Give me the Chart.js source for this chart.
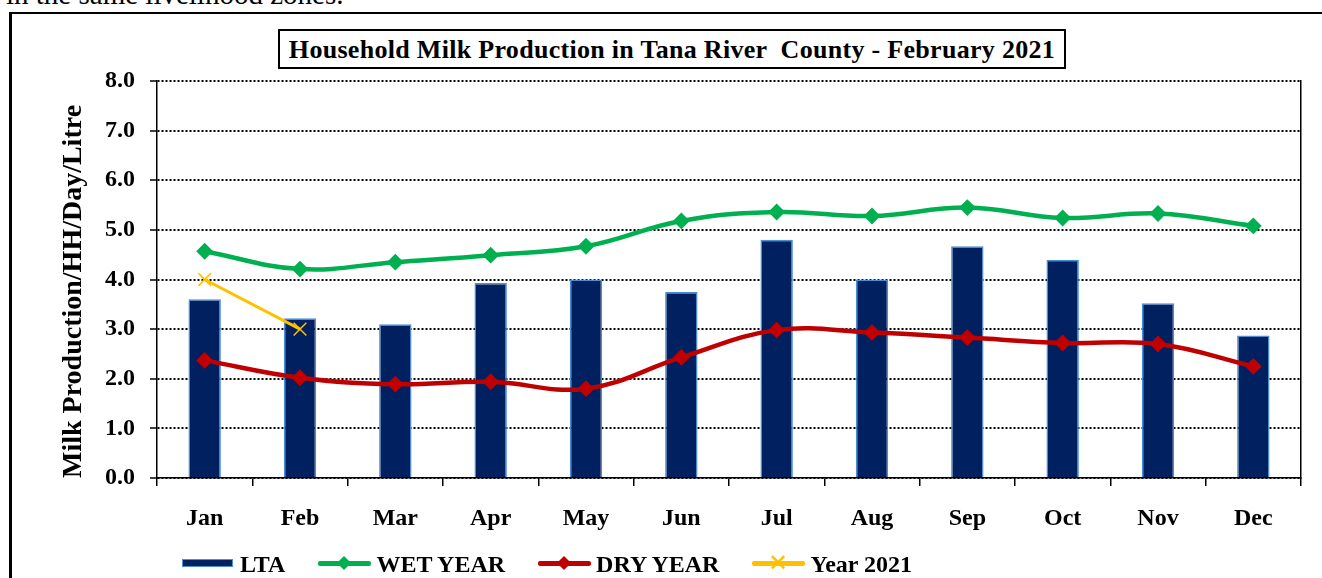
<!DOCTYPE html>
<html>
<head>
<meta charset="utf-8">
<script src="https://cdn.jsdelivr.net/npm/chart.js@4.4.1/dist/chart.umd.min.js"></script>
<style>
  html, body { margin: 0; padding: 0; background: #fff; }
  body { width: 1322px; height: 578px; position: relative; overflow: hidden;
         font-family: "Liberation Serif", "Times New Roman", serif; }
  #lead { position: absolute; left: 6px; top: -20px; font-size: 29px; line-height: 29px; white-space: pre; color: #000; }
  #frame { position: absolute; left: 9px; top: 12px; width: 1320px; height: 600px;
           border-left: 3px solid #000; border-top: 2px solid #000; }
  #chartBox { position: absolute; left: 0; top: 0; width: 1322px; height: 578px; }
  #title { position: absolute; left: 278px; top: 29px; width: 784px; height: 36px;
           border: 2px solid #000; background: #fff; text-align: center;
           font-family: "Liberation Serif", "Times New Roman", serif;
           font-weight: bold; font-size: 26px; line-height: 37px; letter-spacing: 0.3px; white-space: pre; }
  #legend { position: absolute; left: 182px; top: 550px; display: flex; align-items: center;
            font-family: "Liberation Serif", "Times New Roman", serif;
            font-weight: bold; font-size: 24px; line-height: 28px; white-space: pre; }
  .item { display: flex; align-items: center; margin-right: 33px; }
  .sw { position: relative; width: 53px; height: 16px; margin-right: 5px; }
  .sw .bar { position: absolute; left: 0; top: 3px; width: 49px; height: 6px; border: 1.5px solid; }
  .sw .ln { position: absolute; left: 0; top: 5px; width: 53px; height: 5px; border-radius: 2px; }
  .sw .dia { position: absolute; left: 21px; top: 2px; width: 10px; height: 10px; transform: rotate(45deg); }
  .sw .x { position: absolute; left: 16px; top: -5px; font-weight: normal; font-size: 24px; line-height: 24px; }
</style>
</head>
<body>
<div id="lead">in the same livelihood zones.</div>
<div id="frame"></div>
<div id="chartBox"><canvas id="milkChart" width="1322" height="578"></canvas></div>
<div id="title">Household Milk Production in Tana River  County - February 2021</div>
<div id="legend"></div>
<script>
  const FONT = "'Liberation Serif', 'Times New Roman', serif";

  const months = ["Jan", "Feb", "Mar", "Apr", "May", "Jun", "Jul", "Aug", "Sep", "Oct", "Nov", "Dec"];
  const ltaValues = [3.60, 3.22, 3.10, 3.93, 4.00, 3.75, 4.80, 4.00, 4.67, 4.40, 3.52, 2.87];
  const wetYearValues = [4.57, 4.21, 4.35, 4.49, 4.67, 5.18, 5.36, 5.28, 5.45, 5.24, 5.33, 5.08];
  const dryYearValues = [2.37, 2.02, 1.89, 1.94, 1.80, 2.43, 2.98, 2.93, 2.83, 2.72, 2.70, 2.25];
  const year2021Values = [4.0, 3.0, null, null, null, null, null, null, null, null, null, null];

  const seriesNames = ["LTA", "WET YEAR", "DRY YEAR", "Year 2021"];
  const colors = { lta: "#002060", ltaEdge: "#4A8FD3", wet: "#00B050", dry: "#C00000", y2021: "#FFC000" };

  const bold24 = { family: FONT, size: 24, weight: "bold" };

  const ctx = document.getElementById("milkChart").getContext("2d");
  const chart = new Chart(ctx, {
    type: "bar",
    data: {
      labels: months,
      datasets: [
        {
          type: "line", label: seriesNames[3], data: year2021Values, order: 0,
          borderColor: colors.y2021, backgroundColor: colors.y2021, borderWidth: 3,
          pointStyle: "crossRot", pointRadius: 9, pointBorderWidth: 1.5, tension: 0, spanGaps: false
        },
        {
          type: "line", label: seriesNames[1], data: wetYearValues, order: 1,
          borderColor: colors.wet, backgroundColor: colors.wet, borderWidth: 4.5,
          pointStyle: "rectRot", pointRadius: 7, pointBorderWidth: 2, tension: 0.4
        },
        {
          type: "line", label: seriesNames[2], data: dryYearValues, order: 2,
          borderColor: colors.dry, backgroundColor: colors.dry, borderWidth: 4.5,
          pointStyle: "rectRot", pointRadius: 7, pointBorderWidth: 2, tension: 0.4
        },
        {
          type: "bar", label: seriesNames[0], data: ltaValues, order: 3,
          backgroundColor: colors.lta, borderColor: colors.ltaEdge, borderWidth: 1.5,
          barPercentage: 0.34, categoryPercentage: 1
        }
      ]
    },
    options: {
      responsive: false,
      animation: false,
      layout: { padding: { top: 81, right: 21, bottom: 0, left: 0 } },
      plugins: { legend: { display: false }, tooltip: { enabled: false }, title: { display: false } },
      scales: {
        x: {
          offset: true,
          grid: { offset: true, drawOnChartArea: false, drawTicks: true, tickLength: 8, color: "#000", lineWidth: 1.5 },
          border: { color: "#000", width: 1.5 },
          ticks: { font: bold24, color: "#000", padding: 18, maxRotation: 0, autoSkip: false },
          afterFit: (s) => { s.height = 100; }
        },
        y: {
          min: 0, max: 8,
          grid: { color: "#000", lineWidth: 2, tickLength: 7, tickWidth: 1.5, tickColor: "#000" },
          border: { color: "#000", width: 1.5, dash: [2, 2] },
          ticks: { stepSize: 1, font: bold24, color: "#000", padding: 15, callback: (v) => v.toFixed(1) },
          title: { display: true, text: "Milk Production/HH/Day/Litre", color: "#000", align: "start",
                   font: { family: FONT, size: 28, weight: "bold" }, padding: { top: 57, bottom: 0 } },
          afterFit: (s) => { s.width = 157; }
        },
        y2: {
          position: "right", min: 0, max: 8,
          grid: { drawOnChartArea: false, drawTicks: false },
          border: { color: "#000", width: 1.5 },
          ticks: { display: false },
          afterFit: (s) => { s.width = 0; }
        }
      }
    }
  });

  // legend built from the same dataset settings
  const legend = document.getElementById("legend");
  const legendSpec = [
    { name: seriesNames[0], kind: "bar", fill: colors.lta, edge: colors.ltaEdge },
    { name: seriesNames[1], kind: "dia", fill: colors.wet },
    { name: seriesNames[2], kind: "dia", fill: colors.dry },
    { name: seriesNames[3], kind: "x", fill: colors.y2021 }
  ];
  legendSpec.forEach((s) => {
    const item = document.createElement("div");
    item.className = "item";
    const sw = document.createElement("div");
    sw.className = "sw";
    if (s.kind === "bar") {
      sw.innerHTML = `<div class="bar" style="background:${s.fill};border-color:${s.edge}"></div>`;
    } else if (s.kind === "dia") {
      sw.innerHTML = `<div class="ln" style="background:${s.fill}"></div><div class="dia" style="background:${s.fill}"></div>`;
    } else {
      sw.innerHTML = `<div class="ln" style="background:${s.fill}"></div><div class="x" style="color:${s.fill}">✕</div>`;
    }
    const label = document.createElement("span");
    label.textContent = s.name;
    item.appendChild(sw);
    item.appendChild(label);
    legend.appendChild(item);
  });
</script>
</body>
</html>
